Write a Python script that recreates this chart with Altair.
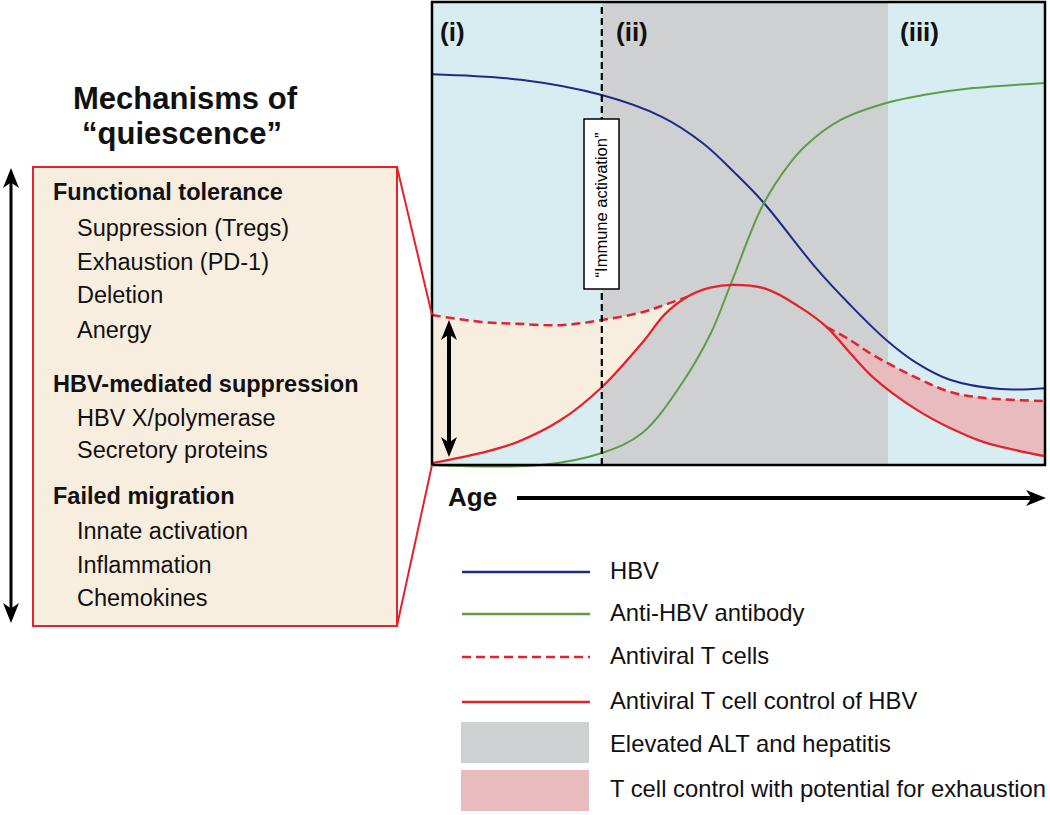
import altair as alt
import pandas as pd

# ---------------- data (age in % of the time axis, level in % of plot height) ----------------
hbv_age = [0, 14.5, 27.7, 37.5, 44.2, 49.4, 54.0, 62.8, 68.2, 74.2, 79.1, 84.5, 92.7, 100]
hbv_level = [84.4, 83.2, 79.9, 75.2, 69.5, 63.1, 56.8, 42.3, 34.6, 26.9, 22.0, 18.4, 16.4, 16.6]

ab_age = [0, 17.8, 27.7, 34.3, 40.8, 45.5, 48.8, 54.0, 58.4, 61.2, 66.6, 74.1, 80.1, 88.3, 100]
ab_level = [0, 0, 2.6, 6.9, 17.7, 28.5, 39.3, 56.2, 65.2, 69.3, 74.5, 78.2, 79.9, 81.4, 82.5]

ctrl_age = [0, 8, 14, 21, 27.7, 34.3, 38, 41.6, 45.4, 49.1, 54.6, 60.0, 64.4, 68.2, 71.9, 79.1, 84.5, 89.9, 100]
ctrl_level = [0.4, 2.6, 5.0, 9.7, 16.8, 26.4, 32.6, 36.3, 38.3, 38.9, 38.0, 34.1, 29.8, 24.2, 19.0, 11.9, 8.0, 5.0, 1.9]

tcell_early_age = [0, 8, 14, 21, 27.7, 34.3, 38, 41.6]
tcell_early_level = [32.4, 30.9, 30.5, 30.2, 31.3, 33.0, 34.6, 36.3]
tcell_late_age = [64.4, 68.2, 71.9, 79.1, 84.5, 89.9, 100]
tcell_late_level = [29.8, 27.0, 23.8, 18.8, 15.8, 14.5, 13.8]

phase_edges = [0, 27.7, 74.4, 100]
phase_names = ["(i)", "(ii)", "(iii)"]
activation_age = 27.7

mechanism_groups = ["Functional tolerance", "HBV-mediated suppression", "Failed migration"]
mechanism_items = [
    ["Suppression (Tregs)", "Exhaustion (PD-1)", "Deletion", "Anergy"],
    ["HBV X/polymerase", "Secretory proteins"],
    ["Innate activation", "Inflammation", "Chemokines"],
]

legend_labels = ["HBV", "Anti-HBV antibody", "Antiviral T cells",
                 "Antiviral T cell control of HBV", "Elevated ALT and hepatitis",
                 "T cell control with potential for exhaustion"]

# ---------------- layout (pixels) & styles ----------------
W, H = 1050, 815
PL, PR, PT, PB = 432, 1045, 2, 465
FONT = "Liberation Sans"
C_BLUEBG = "#d8edf2"
C_GRAY = "#cfd0d2"
C_BEIGE = "#f8eee0"
C_PINK = "#e8bbbe"
C_BLUE = "#1e2a88"
C_GREEN = "#5a9f45"
C_RED = "#e3232b"
CURVE = "catmull-rom"


def X(px):
    return (px - PL) * 100.0 / (PR - PL)


def Y(py):
    return (PB - py) * 100.0 / (PB - PT)


xs = alt.Scale(domain=[X(0), X(W)], nice=False, zero=False)
ys = alt.Scale(domain=[Y(H), Y(0)], nice=False, zero=False)


def ex(f):
    return alt.X(f, type="quantitative", scale=xs, axis=None)


def ey(f):
    return alt.Y(f, type="quantitative", scale=ys, axis=None)


HEAD = "M1,0L-1,-0.8L-0.45,0L-1,0.8Z"
layers = []

# phase backgrounds
bg = pd.DataFrame({
    "x0": phase_edges[:-1], "x1": phase_edges[1:],
    "y0": [0, 0, 0], "y1": [100, 100, 100],
    "c": [C_BLUEBG, C_GRAY, C_BLUEBG],
})
layers.append(alt.Chart(bg).mark_rect().encode(
    x=ex("x0"), x2="x1", y=ey("y0"), y2="y1", color=alt.Color("c:N", scale=None)))

# fills between T cell curves
early = pd.DataFrame({"a": tcell_early_age, "lo": ctrl_level[:len(tcell_early_age)], "hi": tcell_early_level})
layers.append(alt.Chart(early).mark_area(color=C_BEIGE, interpolate=CURVE, opacity=1).encode(
    x=ex("a"), y=ey("lo"), y2="hi"))
late = pd.DataFrame({"a": tcell_late_age, "lo": ctrl_level[-len(tcell_late_age):], "hi": tcell_late_level})
layers.append(alt.Chart(late).mark_area(color=C_PINK, interpolate=CURVE, opacity=1).encode(
    x=ex("a"), y=ey("lo"), y2="hi"))

# curves
layers.append(alt.Chart(pd.DataFrame({"a": hbv_age, "v": hbv_level})).mark_line(
    color=C_BLUE, strokeWidth=2, interpolate=CURVE).encode(x=ex("a"), y=ey("v")))
layers.append(alt.Chart(pd.DataFrame({"a": ab_age, "v": ab_level})).mark_line(
    color=C_GREEN, strokeWidth=2, interpolate=CURVE).encode(x=ex("a"), y=ey("v")))
dash_df = pd.DataFrame({
    "a": tcell_early_age + tcell_late_age,
    "v": tcell_early_level + tcell_late_level,
    "seg": ["e"] * len(tcell_early_age) + ["l"] * len(tcell_late_age),
})
layers.append(alt.Chart(dash_df).mark_line(
    color=C_RED, strokeWidth=2.5, strokeDash=[9, 5], interpolate=CURVE).encode(
    x=ex("a"), y=ey("v"), detail="seg:N"))
layers.append(alt.Chart(pd.DataFrame({"a": ctrl_age, "v": ctrl_level})).mark_line(
    color=C_RED, strokeWidth=2.3, interpolate=CURVE).encode(x=ex("a"), y=ey("v")))

# immune activation dashed line + label box
layers.append(alt.Chart(pd.DataFrame({"a": [activation_age], "y0": [0], "y1": [100]})).mark_rule(
    color="black", strokeWidth=2.2, strokeDash=[7, 4]).encode(x=ex("a"), y=ey("y0"), y2="y1"))
layers.append(alt.Chart(pd.DataFrame({"x0": [X(584)], "x1": [X(619)], "y0": [Y(119)], "y1": [Y(289)]})).mark_rect(
    fill="white", stroke="black", strokeWidth=1.5).encode(x=ex("x0"), x2="x1", y=ey("y0"), y2="y1"))
layers.append(alt.Chart(pd.DataFrame({"x": [X(602)], "y": [Y(205)], "t": ["\u201cImmune activation\u201d"]})).mark_text(
    angle=270, font=FONT, fontSize=16.5, color="black", align="center", baseline="middle").encode(
    x=ex("x"), y=ey("y"), text="t:N"))

# plot border
layers.append(alt.Chart(pd.DataFrame({"x0": [0], "x1": [100], "y0": [0], "y1": [100]})).mark_rect(
    fillOpacity=0, stroke="black", strokeWidth=2.5).encode(x=ex("x0"), x2="x1", y=ey("y0"), y2="y1"))

# phase labels
layers.append(alt.Chart(pd.DataFrame({"x": [X(440), X(616), X(900)], "y": [Y(33)] * 3, "t": phase_names})).mark_text(
    font=FONT, fontSize=26, fontWeight="bold", align="left", baseline="middle", color="#111").encode(
    x=ex("x"), y=ey("y"), text="t:N"))

# inner double arrow
layers.append(alt.Chart(pd.DataFrame({"x": [X(449)], "y0": [Y(328)], "y1": [Y(449)]})).mark_rule(
    color="black", strokeWidth=4).encode(x=ex("x"), y=ey("y0"), y2="y1"))
# left double arrow
layers.append(alt.Chart(pd.DataFrame({"x": [X(11)], "y0": [Y(176)], "y1": [Y(615)]})).mark_rule(
    color="black", strokeWidth=3).encode(x=ex("x"), y=ey("y0"), y2="y1"))
# age arrow
layers.append(alt.Chart(pd.DataFrame({"x0": [X(517)], "x1": [X(1032)], "y": [Y(498)]})).mark_rule(
    color="black", strokeWidth=4).encode(x=ex("x0"), x2="x1", y=ey("y")))
heads = pd.DataFrame({
    "x": [X(449), X(449), X(11), X(11), X(1036)],
    "y": [Y(330), Y(447), Y(178), Y(613), Y(498)],
    "ang": [270, 90, 270, 90, 0],
})
layers.append(alt.Chart(heads).mark_point(
    shape=HEAD, filled=True, size=400, color="black", strokeWidth=0, opacity=1).encode(
    x=ex("x"), y=ey("y"), angle=alt.Angle("ang:Q", scale=None)))
layers.append(alt.Chart(pd.DataFrame({"x": [X(448)], "y": [Y(498)], "t": ["Age"]})).mark_text(
    font=FONT, fontSize=26, fontWeight="bold", align="left", baseline="middle", color="#111").encode(
    x=ex("x"), y=ey("y"), text="t:N"))

# left mechanisms box
layers.append(alt.Chart(pd.DataFrame({"x0": [X(33)], "x1": [X(397)], "y0": [Y(167)], "y1": [Y(626)]})).mark_rect(
    fill=C_BEIGE, stroke=C_RED, strokeWidth=2).encode(x=ex("x0"), x2="x1", y=ey("y0"), y2="y1"))
conn = pd.DataFrame({"x0": [X(397), X(397)], "y0": [Y(167), Y(626)], "x1": [X(432), X(432)], "y1": [Y(315), Y(465)]})
layers.append(alt.Chart(conn).mark_rule(color=C_RED, strokeWidth=2).encode(
    x=ex("x0"), y=ey("y0"), x2="x1", y2="y1"))
layers.append(alt.Chart(pd.DataFrame({"x": [X(185), X(182)], "y": [Y(109), Y(144)],
                                      "t": ["Mechanisms of", "\u201cquiescence\u201d"]})).mark_text(
    font=FONT, fontSize=31, fontWeight="bold", align="center", baseline="alphabetic", color="#111").encode(
    x=ex("x"), y=ey("y"), text="t:N"))

row_y = [193, 229, 263, 296, 331, 385, 419, 451, 497, 532, 566, 599]
bold_rows, item_rows = [], []
k = 0
for g, items in zip(mechanism_groups, mechanism_items):
    bold_rows.append({"x": X(53), "y": Y(row_y[k]), "t": g})
    k += 1
    for it in items:
        item_rows.append({"x": X(77), "y": Y(row_y[k]), "t": it})
        k += 1
layers.append(alt.Chart(pd.DataFrame(bold_rows)).mark_text(
    font=FONT, fontSize=23.5, fontWeight="bold", align="left", baseline="middle", color="#111").encode(
    x=ex("x"), y=ey("y"), text="t:N"))
layers.append(alt.Chart(pd.DataFrame(item_rows)).mark_text(
    font=FONT, fontSize=23.5, align="left", baseline="middle", color="#111").encode(
    x=ex("x"), y=ey("y"), text="t:N"))

# legend
leg_y = [572, 614, 657, 702, 745, 790]
leg_solid = pd.DataFrame({"x0": [X(462)] * 3, "x1": [X(590)] * 3,
                          "y": [Y(leg_y[0]), Y(leg_y[1]), Y(leg_y[3])],
                          "c": [C_BLUE, C_GREEN, C_RED]})
layers.append(alt.Chart(leg_solid).mark_rule(strokeWidth=2.3).encode(
    x=ex("x0"), x2="x1", y=ey("y"), color=alt.Color("c:N", scale=None)))
layers.append(alt.Chart(pd.DataFrame({"x0": [X(462)], "x1": [X(590)], "y": [Y(leg_y[2])]})).mark_rule(
    strokeWidth=2.5, color=C_RED, strokeDash=[9, 5]).encode(x=ex("x0"), x2="x1", y=ey("y")))
leg_rect = pd.DataFrame({"x0": [X(461)] * 2, "x1": [X(589)] * 2,
                         "y0": [Y(722), Y(770)], "y1": [Y(763), Y(811)], "c": [C_GRAY, C_PINK]})
layers.append(alt.Chart(leg_rect).mark_rect().encode(
    x=ex("x0"), x2="x1", y=ey("y0"), y2="y1", color=alt.Color("c:N", scale=None)))
layers.append(alt.Chart(pd.DataFrame({"x": [X(610)] * 6, "y": [Y(v) for v in leg_y], "t": legend_labels})).mark_text(
    font=FONT, fontSize=23.8, align="left", baseline="middle", color="#111").encode(
    x=ex("x"), y=ey("y"), text="t:N"))

chart = alt.layer(*layers).properties(
    width=W, height=H, padding=0, autosize="none", background="white"
).configure_view(stroke=None)

chart.save("out.html", embed_options={"renderer": "svg", "actions": False})
